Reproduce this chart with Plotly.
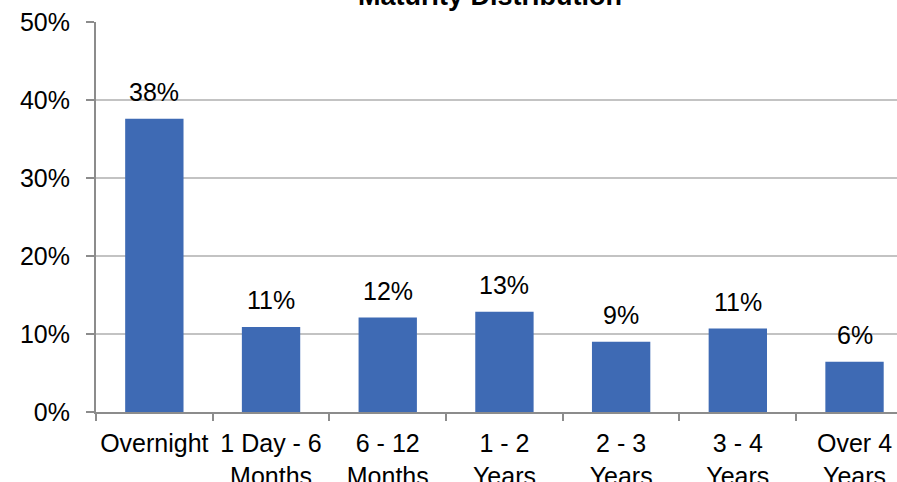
import plotly.graph_objects as go

# Maturity buckets and share of portfolio (%)
categories = ["Overnight", "1 Day - 6<br>Months", "6 - 12<br>Months", "1 - 2<br>Years",
              "2 - 3<br>Years", "3 - 4<br>Years", "Over 4<br>Years"]
shares = [37.6, 10.9, 12.1, 12.85, 9.0, 10.7, 6.45]
y_ticks = [0, 10, 20, 30, 40, 50]
y_tick_labels = [f"{v}%" for v in y_ticks]

FONT = "Liberation Sans, Arial, sans-serif"
BAR_COLOR = "#3E6AB4"
AXIS_COLOR = "#8C8C8C"
GRID_COLOR = "#C3C3C3"
TXT = 25

x_pos = list(range(len(categories)))
x_range = [-0.5, 6.364]

fig = go.Figure()
fig.add_trace(go.Bar(
    x=x_pos,
    y=shares,
    width=0.5,
    marker=dict(color=BAR_COLOR, line=dict(width=0)),
    hoverinfo="skip",
))

# value labels above each bar
for xi, v in zip(x_pos, shares):
    fig.add_annotation(
        x=xi, y=v, xref="x", yref="y",
        text=f"{v:.0f}%",
        showarrow=False,
        yanchor="bottom",
        yshift=11,
        font=dict(family=FONT, size=TXT, color="#000000"),
    )

# chart title
fig.add_annotation(
    x=(490 - 96) / (897 - 96), xref="paper", y=1, yref="paper",
    text="<b>Maturity Distribution</b>",
    showarrow=False,
    xanchor="center", yanchor="bottom",
    yshift=9,
    font=dict(family=FONT, size=27, color="#000000"),
)

fig.update_layout(
    width=897,
    height=482,
    margin=dict(l=96, r=0, t=22, b=70, autoexpand=False),
    paper_bgcolor="white",
    plot_bgcolor="white",
    showlegend=False,
    font=dict(family=FONT, size=TXT, color="#000000"),
)

fig.update_xaxes(
    type="linear",
    range=x_range,
    automargin=False,
    tickmode="array",
    tickvals=x_pos,
    ticktext=categories,
    showline=True,
    linecolor=AXIS_COLOR,
    linewidth=2,
    showgrid=False,
    zeroline=False,
    ticks="",
    ticklabelstandoff=8,
    tickfont=dict(family=FONT, size=TXT, color="#000000"),
)

# boundary tick marks between categories, on a second overlaying axis
fig.update_layout(xaxis2=dict(
    overlaying="x",
    range=x_range,
    automargin=False,
    tickmode="array",
    tickvals=[i - 0.5 for i in range(len(categories) + 1)],
    ticks="outside",
    ticklen=8,
    tickwidth=2,
    tickcolor=AXIS_COLOR,
    showticklabels=False,
    showgrid=False,
    zeroline=False,
    showline=False,
    side="bottom",
))
fig.add_trace(go.Scatter(x=[None], y=[None], xaxis="x2", yaxis="y", showlegend=False))

fig.update_yaxes(
    range=[0, 50],
    automargin=False,
    tickmode="array",
    tickvals=y_ticks,
    ticktext=y_tick_labels,
    showline=True,
    linecolor=AXIS_COLOR,
    linewidth=2,
    showgrid=True,
    gridcolor=GRID_COLOR,
    gridwidth=2,
    zeroline=False,
    ticks="outside",
    ticklen=8,
    tickwidth=2,
    tickcolor=AXIS_COLOR,
    ticklabelstandoff=11,
    tickfont=dict(family=FONT, size=TXT, color="#000000"),
)

fig.write_html("out.html")
